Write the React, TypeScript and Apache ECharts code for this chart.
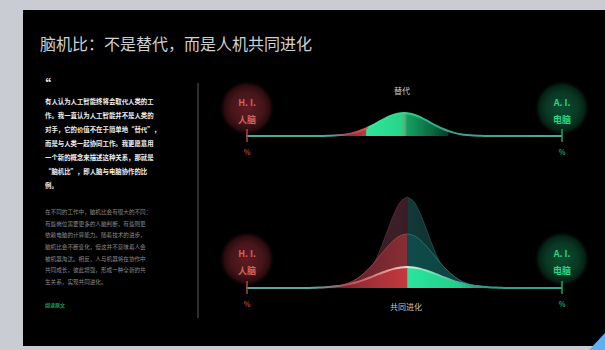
import React, { useEffect, useRef } from "react";
import * as echarts from "echarts";

const TITLE = "脑机比：不是替代，而是人机共同进化";
const TOP_LABEL = "替代";
const BOTTOM_LABEL = "共同进化";
const LEFT_BADGE = ["H. I.", "人脑"];
const RIGHT_BADGE = ["A. I.", "电脑"];
const END_LABEL = "%";
const QUOTE_LINES = [
  "有人认为人工智能终将会取代人类的工",
  "作。我一直认为人工智能并不是人类的",
  "对手，它的价值不在于简单地“替代”，",
  "而是与人类一起协同工作。我更愿意用",
  "一个新的概念来描述这种关系，那就是",
  "“脑机比”，即人脑与电脑协作的比",
  "例。",
];
const BODY_LINES = [
  "在不同的工作中，脑机比会有很大的不同：",
  "有些岗位需要更多的人脑判断，有些则更",
  "依赖电脑的计算能力。随着技术的进步，",
  "脑机比会不断变化，但这并不意味着人会",
  "被机器淘汰。相反，人与机器将在协作中",
  "共同成长，彼此增强，形成一种全新的共",
  "生关系，实现共同进化。",
];
const SOURCE = "阅读原文";

// top chart: "替代"
const topX = [0, 22, 24, 26, 28, 30, 32, 34, 36, 38, 40, 42, 44, 46, 48, 50, 52, 54, 56, 58, 60, 62, 64, 66, 68, 70, 72, 74, 76, 78, 100];
const topY = [0, 0, 0.1, 0.25, 0.5, 1.0, 1.8, 3.1, 5.0, 7.5, 10.5, 14.0, 17.4, 20.3, 22.3, 23, 22.3, 20.3, 17.4, 14.0, 10.5, 7.5, 5.0, 3.1, 1.8, 1.0, 0.5, 0.25, 0.1, 0, 0];
const topRedRange = [22, 38];
const topGreenRange = [38, 64];

// bottom chart: "共同进化"
const bottomX = [0, 19, 21, 23, 25, 27, 29, 31, 33, 35, 37, 39, 41, 43, 45, 47, 49, 51, 53, 55, 57, 59, 61, 63, 65, 67, 69, 71, 73, 75, 77, 79, 81, 83, 100];
const tallY = [0, 0, 0, 0, 0, 0.1, 0.3, 0.8, 2.0, 4.4, 8.9, 16.6, 27.9, 42.7, 59.4, 75.3, 86.8, 91, 86.8, 75.3, 59.4, 42.7, 27.9, 16.6, 8.9, 4.4, 2.0, 0.8, 0.3, 0.1, 0, 0, 0, 0, 0];
const midY = [0, 0, 0, 0.2, 0.5, 1.0, 1.9, 3.4, 5.7, 9.2, 13.9, 19.9, 27.0, 34.7, 42.1, 48.3, 52.5, 54, 52.5, 48.3, 42.1, 34.7, 27.0, 19.9, 13.9, 9.2, 5.7, 3.4, 1.9, 1.0, 0.5, 0.2, 0, 0, 0];
const smallY = [0, 0, 0.2, 0.4, 0.7, 1.2, 1.9, 2.8, 4.2, 5.8, 7.9, 10.2, 12.7, 15.3, 17.5, 19.4, 20.6, 21, 20.6, 19.4, 17.5, 15.3, 12.7, 10.2, 7.9, 5.8, 4.2, 2.8, 1.9, 1.2, 0.7, 0.4, 0.2, 0, 0];
const bottomCenter = 51;
const bottomLeftRange = [19, bottomCenter];
const bottomRightRange = [bottomCenter, 83];

const FONT = "Noto Sans CJK SC";

const zip = (xs: number[], ys: number[], lo = -Infinity, hi = Infinity) =>
  xs.map((x, i) => [x, ys[i]]).filter(([x]) => x >= lo && x <= hi);

const lg = (stops: [number, string][]) =>
  new echarts.graphic.LinearGradient(0, 0, 1, 0, stops.map(([offset, color]) => ({ offset, color })));

const areaSeries = (name: string, data: number[][], fill: any, grid: number, z: number, line?: any) => ({
  name,
  type: "line",
  xAxisIndex: grid,
  yAxisIndex: grid,
  data,
  smooth: 0.4,
  symbol: "none",
  silent: true,
  z,
  lineStyle: line ? line : { width: 0, opacity: 0 },
  areaStyle: { color: fill, opacity: 1 },
});

const lineSeries = (name: string, data: number[][], color: any, grid: number, z: number) => ({
  name,
  type: "line",
  xAxisIndex: grid,
  yAxisIndex: grid,
  data,
  smooth: 0.4,
  symbol: "none",
  silent: true,
  z,
  lineStyle: { width: 2, color },
});

function badge(cx: number, cy: number, lines: string[], red: boolean) {
  const fill = red
    ? { type: "radial", x: 0.5, y: 0.5, r: 0.5, colorStops: [
        { offset: 0, color: "#5e1c21" }, { offset: 0.6, color: "#45151a" }, { offset: 0.85, color: "#2a0b0e" }, { offset: 1, color: "rgba(20,4,5,0.1)" }] }
    : { type: "radial", x: 0.5, y: 0.5, r: 0.5, colorStops: [
        { offset: 0, color: "#0d4c31" }, { offset: 0.6, color: "#093823" }, { offset: 0.85, color: "#052215" }, { offset: 1, color: "rgba(2,15,10,0.1)" }] };
  const tc = red ? "#d4625d" : "#28d683";
  return [
    { type: "circle", z: 50, silent: true, shape: { cx, cy, r: 27 }, style: { fill } },
    { type: "text", z: 51, silent: true, style: { x: cx, y: cy - 6, text: lines[0], fill: tc, font: `bold 9px "${FONT}"`, align: "center", verticalAlign: "middle" } },
    { type: "text", z: 51, silent: true, style: { x: cx, y: cy + 11, text: lines[1], fill: tc, font: `bold 9px "${FONT}"`, align: "center", verticalAlign: "middle" } },
  ];
}

function endTick(x: number, baseY: number, red: boolean) {
  const c = red ? "#b0403c" : "#1ca660";
  return [
    { type: "line", z: 52, silent: true, shape: { x1: x, y1: baseY - 7, x2: x, y2: baseY + 6 }, style: { stroke: c, lineWidth: 1.5 } },
    { type: "text", z: 52, silent: true, style: { x, y: baseY + 16, text: END_LABEL, fill: c, font: `bold 7px "${FONT}"`, align: "center", verticalAlign: "middle" } },
  ];
}

export default function App() {
  const ref = useRef<HTMLDivElement>(null);
  useEffect(() => {
    if (!ref.current) return;
    const chart = echarts.init(ref.current, undefined, { renderer: "svg" });

    const topLine = lg([
      [0, "#4aa89c"], [0.27, "#4aa89c"], [0.32, "#b9444a"], [0.38, "#d65050"],
      [0.39, "#3fe39a"], [0.5, "#33d68f"], [0.6, "#2aa78a"], [0.7, "#3aa393"], [1, "#4aa89c"],
    ]);
    const bottomLine = lg([
      [0, "#5aa89f"], [0.22, "#5aa89f"], [0.32, "#b84a50"], [0.45, "#e49a9c"], [0.505, "#f2d2d2"],
      [0.515, "#c8f2dc"], [0.6, "#6fd8b0"], [0.72, "#2a9c88"], [1, "#3aa393"],
    ]);

    const graphic: any[] = [
      { type: "rect", z: 0, silent: true, shape: { x: 23, y: 10, width: 600, height: 336 }, style: { fill: "#000000" } },
      { type: "polygon", z: 1, silent: true, shape: { points: [[589, 350], [605, 333], [605, 350]] }, style: { fill: "#62aef0" } },
      { type: "text", z: 5, silent: true, style: { x: 40, y: 43, text: TITLE, fill: "#d0d0d0", font: `16px "${FONT}"`, verticalAlign: "middle" } },
      { type: "line", z: 5, silent: true, shape: { x1: 198, y1: 83, x2: 198, y2: 318 }, style: { stroke: "#2f2f2f", lineWidth: 2 } },
      { type: "text", z: 5, silent: true, style: { x: 38, y: 77, text: "“", fill: "#f2f2f2", font: `bold 13px "${FONT}"` } },
      { type: "text", z: 5, silent: true, style: { x: 45, y: 95, text: QUOTE_LINES.join("\n"), fill: "#f0f0f0", font: `bold 6.4px "${FONT}"`, lineHeight: 13.9 } },
      { type: "text", z: 5, silent: true, style: { x: 45, y: 206, text: BODY_LINES.join("\n"), fill: "#8a8a8a", font: `5.6px "${FONT}"`, lineHeight: 11.7 } },
      { type: "text", z: 5, silent: true, style: { x: 45, y: 304, text: SOURCE, fill: "#1d9a55", font: `bold 5px "${FONT}"`, verticalAlign: "middle" } },
      { type: "text", z: 5, silent: true, style: { x: 402, y: 90, text: TOP_LABEL, fill: "#cfcfcf", font: `8px "${FONT}"`, align: "center", verticalAlign: "middle" } },
      { type: "text", z: 5, silent: true, style: { x: 406, y: 306, text: BOTTOM_LABEL, fill: "#c4c4c4", font: `8px "${FONT}"`, align: "center", verticalAlign: "middle" } },
      ...badge(247, 108, LEFT_BADGE, true),
      ...badge(562, 108, RIGHT_BADGE, false),
      ...badge(247, 259, LEFT_BADGE, true),
      ...badge(562, 259, RIGHT_BADGE, false),
      ...endTick(247, 136, true),
      ...endTick(562, 136, false),
      ...endTick(247, 288, true),
      ...endTick(562, 288, false),
    ];

    const option: any = {
      animation: false,
      backgroundColor: "#c9ccd3",
      textStyle: { fontFamily: FONT },
      grid: [
        { left: 246, width: 316, top: 36, height: 100 },
        { left: 246, width: 316, top: 188, height: 100 },
      ],
      xAxis: [
        { type: "value", gridIndex: 0, min: 0, max: 100, show: false },
        { type: "value", gridIndex: 1, min: 0, max: 100, show: false },
      ],
      yAxis: [
        { type: "value", gridIndex: 0, min: 0, max: 100, show: false },
        { type: "value", gridIndex: 1, min: 0, max: 100, show: false },
      ],
      series: [
        areaSeries("替代-人", zip(topX, topY, topRedRange[0], topRedRange[1]), lg([[0, "#2a0c10"], [0.6, "#8a2a30"], [1, "#c4393f"]]), 0, 3),
        areaSeries("替代-机", zip(topX, topY, topGreenRange[0], topGreenRange[1]), lg([[0, "#2fe69c"], [0.42, "#26d68a"], [0.47, "#5ab07a"], [0.5, "#14a062"], [0.8, "#0b6a42"], [1, "#063a24"]]), 0, 3),
        lineSeries("替代-线", zip(topX, topY), topLine, 0, 6),

        areaSeries("进化-高-人", zip(bottomX, tallY, bottomLeftRange[0], bottomLeftRange[1]), lg([[0, "#1a0a0e"], [0.6, "#331820"], [0.9, "#3e1f29"], [1, "#3a1c25"]]), 1, 3, { width: 1, color: "rgba(110,55,65,0.6)" }),
        areaSeries("进化-高-机", zip(bottomX, tallY, bottomRightRange[0], bottomRightRange[1]), lg([[0, "#123a39"], [0.3, "#0f2f2f"], [1, "#071616"]]), 1, 3, { width: 1, color: "rgba(40,105,95,0.6)" }),
        areaSeries("进化-中-人", zip(bottomX, midY, bottomLeftRange[0], bottomLeftRange[1]), lg([[0, "#3a1216"], [0.6, "#6e252c"], [1, "#8a2d35"]]), 1, 4, { width: 1, color: "rgba(180,75,80,0.8)" }),
        areaSeries("进化-中-机", zip(bottomX, midY, bottomRightRange[0], bottomRightRange[1]), lg([[0, "#0f4c49"], [0.5, "#0d4240"], [1, "#0a2c2b"]]), 1, 4, { width: 1, color: "rgba(40,135,120,0.8)" }),
        areaSeries("进化-低-人", zip(bottomX, smallY, bottomLeftRange[0], bottomLeftRange[1]), lg([[0, "#3a1014"], [0.55, "#9a2e35"], [1, "#c6383f"]]), 1, 5),
        areaSeries("进化-低-机", zip(bottomX, smallY, bottomRightRange[0], bottomRightRange[1]), lg([[0, "#2be59c"], [0.5, "#1fd08a"], [1, "#0c6e4a"]]), 1, 5),
        lineSeries("进化-线", zip(bottomX, smallY), bottomLine, 1, 6),
      ],
      graphic,
    };
    chart.setOption(option);
    return () => chart.dispose();
  }, []);
  return <div ref={ref} style={{ position: "fixed", left: 0, top: 0, width: 605, height: 350 }} />;
}
